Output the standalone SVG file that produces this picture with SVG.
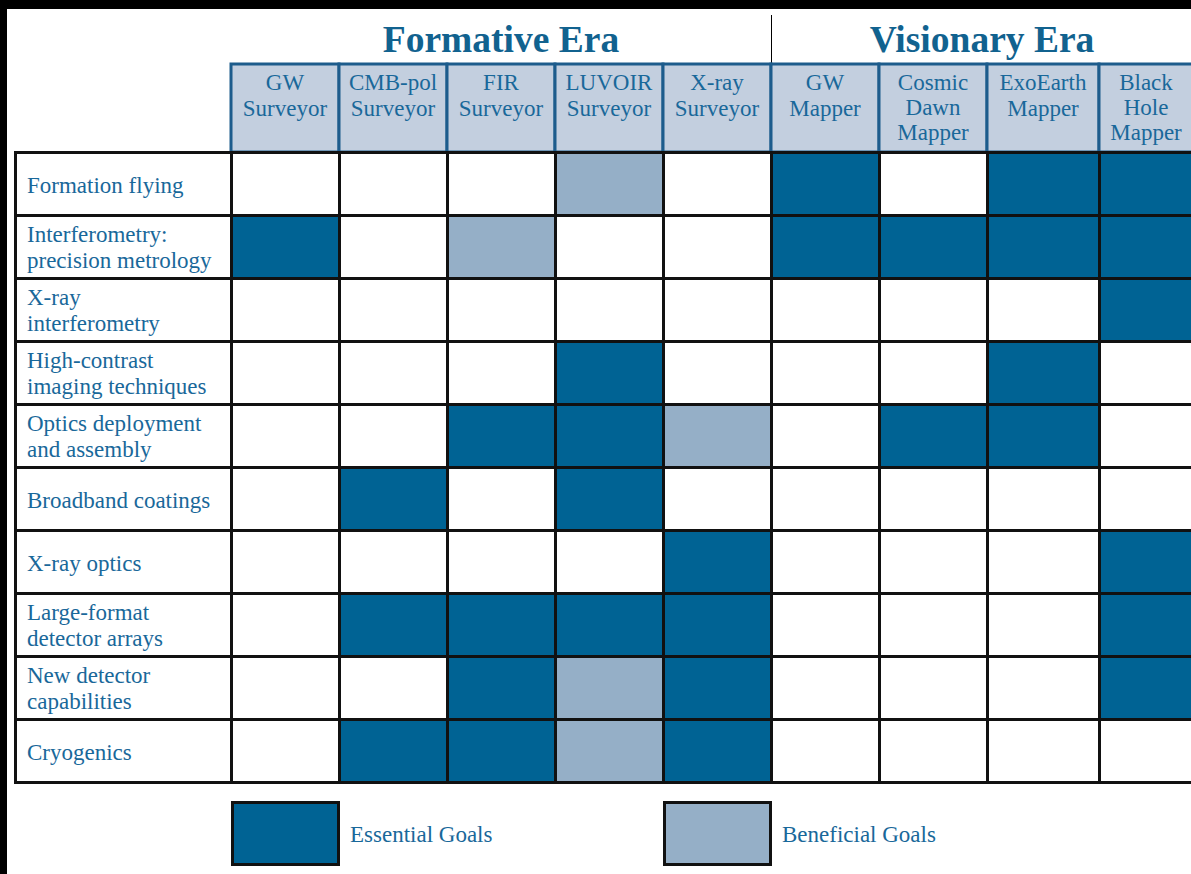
<svg xmlns="http://www.w3.org/2000/svg" width="1191" height="874" viewBox="0 0 1191 874">
<style>
.t{font-family:"Liberation Serif","Times New Roman",serif;font-size:23px;fill:#19689a}
.h{text-anchor:middle}
.era{font-family:"Liberation Serif","Times New Roman",serif;font-size:37.5px;font-weight:bold;fill:#11628f;text-anchor:middle}
.d{fill:#006394}
.l{fill:#95afc7}
.hd{fill:#c3cfdf;stroke:#1d5c8c;stroke-width:3}
.g{stroke:#111;stroke-width:3;fill:none}
</style>
<rect x="0" y="0" width="1191" height="874" fill="#fff"/>
<rect x="0" y="0" width="1191" height="9" fill="#000"/>
<rect x="0" y="0" width="7" height="874" fill="#000"/>
<g id="titles">
<text class="era" x="501" y="52">Formative Era</text>
<text class="era" x="982" y="52">Visionary Era</text>
<line x1="771.5" y1="15" x2="771.5" y2="63" stroke="#000" stroke-width="1"/>
</g>
<g id="header">
<rect class="hd" x="231" y="64" width="108" height="88"/>
<rect class="hd" x="339" y="64" width="108" height="88"/>
<rect class="hd" x="447" y="64" width="108" height="88"/>
<rect class="hd" x="555" y="64" width="108" height="88"/>
<rect class="hd" x="663" y="64" width="108" height="88"/>
<rect class="hd" x="771" y="64" width="108" height="88"/>
<rect class="hd" x="879" y="64" width="108" height="88"/>
<rect class="hd" x="987" y="64" width="112" height="88"/>
<rect class="hd" x="1099" y="64" width="100" height="88"/>
<text class="t h" x="285" y="90">GW</text><text class="t h" x="285" y="116">Surveyor</text>
<text class="t h" x="393" y="90">CMB-pol</text><text class="t h" x="393" y="116">Surveyor</text>
<text class="t h" x="501" y="90">FIR</text><text class="t h" x="501" y="116">Surveyor</text>
<text class="t h" x="609" y="90">LUVOIR</text><text class="t h" x="609" y="116">Surveyor</text>
<text class="t h" x="717" y="90">X-ray</text><text class="t h" x="717" y="116">Surveyor</text>
<text class="t h" x="825" y="90">GW</text><text class="t h" x="825" y="116">Mapper</text>
<text class="t h" x="933" y="90">Cosmic</text><text class="t h" x="933" y="115">Dawn</text><text class="t h" x="933" y="140">Mapper</text>
<text class="t h" x="1043" y="90">ExoEarth</text><text class="t h" x="1043" y="116">Mapper</text>
<text class="t h" x="1146" y="90">Black</text><text class="t h" x="1146" y="115">Hole</text><text class="t h" x="1146" y="140">Mapper</text>
</g>
<g id="cells">
<rect class="l" x="555" y="152" width="108" height="63"/>
<rect class="d" x="771" y="152" width="108" height="63"/>
<rect class="d" x="987" y="152" width="112" height="63"/>
<rect class="d" x="1099" y="152" width="92" height="63"/>
<rect class="d" x="231" y="215" width="108" height="63"/>
<rect class="l" x="447" y="215" width="108" height="63"/>
<rect class="d" x="771" y="215" width="108" height="63"/>
<rect class="d" x="879" y="215" width="108" height="63"/>
<rect class="d" x="987" y="215" width="112" height="63"/>
<rect class="d" x="1099" y="215" width="92" height="63"/>
<rect class="d" x="1099" y="278" width="92" height="63"/>
<rect class="d" x="555" y="341" width="108" height="63"/>
<rect class="d" x="987" y="341" width="112" height="63"/>
<rect class="d" x="447" y="404" width="108" height="63"/>
<rect class="d" x="555" y="404" width="108" height="63"/>
<rect class="l" x="663" y="404" width="108" height="63"/>
<rect class="d" x="879" y="404" width="108" height="63"/>
<rect class="d" x="987" y="404" width="112" height="63"/>
<rect class="d" x="339" y="467" width="108" height="63"/>
<rect class="d" x="555" y="467" width="108" height="63"/>
<rect class="d" x="663" y="530" width="108" height="63"/>
<rect class="d" x="1099" y="530" width="92" height="63"/>
<rect class="d" x="339" y="593" width="108" height="63"/>
<rect class="d" x="447" y="593" width="108" height="63"/>
<rect class="d" x="555" y="593" width="108" height="63"/>
<rect class="d" x="663" y="593" width="108" height="63"/>
<rect class="d" x="1099" y="593" width="92" height="63"/>
<rect class="d" x="447" y="656" width="108" height="63"/>
<rect class="l" x="555" y="656" width="108" height="63"/>
<rect class="d" x="663" y="656" width="108" height="63"/>
<rect class="d" x="1099" y="656" width="92" height="63"/>
<rect class="d" x="339" y="719" width="108" height="63"/>
<rect class="d" x="447" y="719" width="108" height="63"/>
<rect class="l" x="555" y="719" width="108" height="63"/>
<rect class="d" x="663" y="719" width="108" height="63"/>
</g>
<g id="grid" class="g">
<path d="M15,152.5H1191M15,215.5H1191M15,278.5H1191M15,341.5H1191M15,404.5H1191M15,467.5H1191M15,530.5H1191M15,593.5H1191M15,656.5H1191M15,719.5H1191M15,782.5H1191"/>
<path d="M15.5,151V784M231.5,151V784M339.5,151V784M447.5,151V784M555.5,151V784M663.5,151V784M771.5,151V784M879.5,151V784M987.5,151V784M1099.5,151V784"/>
</g>
<g id="labels">
<text class="t" x="27" y="193">Formation flying</text>
<text class="t" x="27" y="242">Interferometry:</text><text class="t" x="27" y="268">precision metrology</text>
<text class="t" x="27" y="305">X-ray</text><text class="t" x="27" y="331">interferometry</text>
<text class="t" x="27" y="368">High-contrast</text><text class="t" x="27" y="394">imaging techniques</text>
<text class="t" x="27" y="431">Optics deployment</text><text class="t" x="27" y="457">and assembly</text>
<text class="t" x="27" y="508">Broadband coatings</text>
<text class="t" x="27" y="571">X-ray optics</text>
<text class="t" x="27" y="620">Large-format</text><text class="t" x="27" y="646">detector arrays</text>
<text class="t" x="27" y="683">New detector</text><text class="t" x="27" y="709">capabilities</text>
<text class="t" x="27" y="760">Cryogenics</text>
</g>
<g id="legend">
<rect class="d" x="232.5" y="802.5" width="106" height="62" stroke="#111" stroke-width="3"/>
<text class="t" x="350" y="842">Essential Goals</text>
<rect class="l" x="664.5" y="802.5" width="106" height="62" stroke="#111" stroke-width="3"/>
<text class="t" x="782" y="842">Beneficial Goals</text>
</g>
</svg>
